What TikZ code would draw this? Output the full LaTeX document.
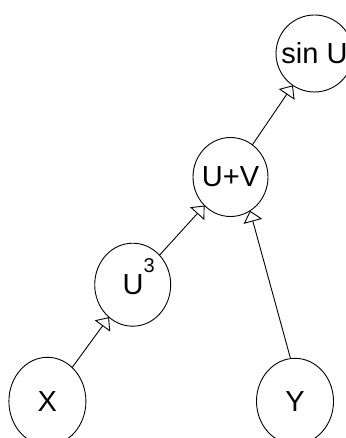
\documentclass[tikz,border=0pt]{standalone}
\usepackage{fontspec}
\setmainfont{Liberation Sans}
\usetikzlibrary{arrows.meta,shapes.geometric}
\begin{document}
\begin{tikzpicture}[x=1pt,y=1pt,
  var/.style={draw, ellipse, line width=0.9pt, inner sep=0pt, outer sep=0pt,
    font=\fontsize{29}{34}\selectfont},
  conn/.style={draw, line width=0.9pt,
    -{Triangle[open, length=11pt, width=19pt, line width=0.9pt]}}]
\useasboundingbox (0,0) rectangle (345,-438);
\node[var, minimum width=77pt, minimum height=77pt] (sin) at (314.5,-53.5) {\makebox[0pt]{sin U}};
\node[var, minimum width=75pt, minimum height=79pt] (uv) at (230.5,-177) {\makebox[0pt]{U+V}};
\node[var, minimum width=76pt, minimum height=83pt] (u3) at (132.7,-284.7)
  {\makebox[0pt]{\hspace*{12pt}U\smash{\raisebox{22pt}{\fontsize{20}{20}\selectfont 3}}}};
\node[var, minimum width=77pt, minimum height=88pt] (x) at (47.4,-401.3) {\makebox[0pt]{X}};
\node[var, minimum width=77pt, minimum height=86pt] (y) at (295,-401.3) {\makebox[0pt]{Y}};
\draw[conn] (x) -- (u3);
\draw[conn] (u3) -- (uv);
\draw[conn] (uv) -- (sin);
\draw[conn] (y.96.4) -- (uv.-60.9);
\end{tikzpicture}
\end{document}
